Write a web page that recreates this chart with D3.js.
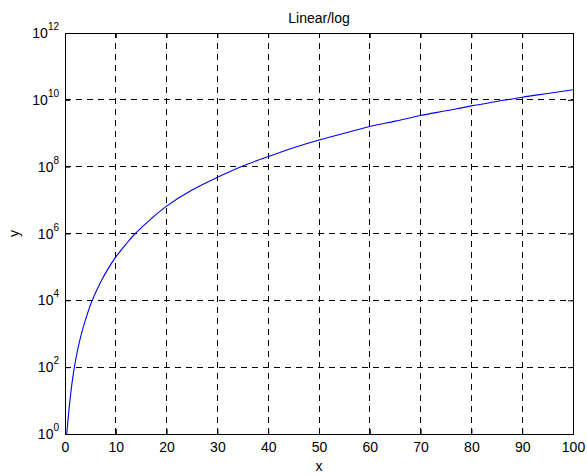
<!DOCTYPE html>
<html><head><meta charset="utf-8">
<script src="https://cdn.jsdelivr.net/npm/d3@7"></script>
<style>
html,body{margin:0;padding:0;background:#fff;}
svg{display:block;font-family:"Liberation Sans",Arial,Helvetica,sans-serif;}
</style></head>
<body>
<script>
// Data
const xValues = [0.35, 0.7, 1.0, 1.4, 1.85, 2.4, 3.1, 4.0, 5.3, 7.0, 8.5, 10, 12, 13.7, 17, 20, 25, 30, 35, 40, 45, 50, 55, 60, 65, 70, 75, 80, 85, 90, 95, 100];
const yValues = [1, 4, 11, 35, 100, 280, 830, 2500, 9500, 3.5e4, 8.9e4, 2.0e5, 4.8e5, 9.5e5, 2.8e6, 6.6e6, 2.0e7, 4.8e7, 1.05e8, 2.0e8, 3.7e8, 6.3e8, 1.0e9, 1.6e9, 2.3e9, 3.4e9, 4.7e9, 6.6e9, 8.9e9, 1.2e10, 1.55e10, 2.0e10];
const xTicks = [0, 10, 20, 30, 40, 50, 60, 70, 80, 90, 100];
const yTickExponents = [0, 2, 4, 6, 8, 10, 12];
const titleText = "Linear/log";
const xLabel = "x";
const yLabel = "y";

const W = 587, H = 476;
const m = {left: 65, right: 573, top: 33, bottom: 434};

const svg = d3.select("body").append("svg").attr("width", W).attr("height", H);
svg.append("rect").attr("width", W).attr("height", H).attr("fill", "#fff");

const x = d3.scaleLinear().domain([0, 100]).range([m.left, m.right]);
const y = d3.scaleLog().domain([1, 1e12]).range([m.bottom, m.top]);

const gridG = svg.append("g");
gridG.selectAll("line.vx").data(xTicks.slice(1, -1)).enter().append("line")
  .attr("x1", d => x(d)).attr("x2", d => x(d))
  .attr("y1", m.bottom).attr("y2", m.top)
  .attr("stroke", "#000").attr("stroke-width", 1).attr("stroke-dasharray", "6,5")
  .attr("shape-rendering", "crispEdges");
gridG.selectAll("line.hy").data(yTickExponents.slice(1, -1)).enter().append("line")
  .attr("x1", m.left).attr("x2", m.right)
  .attr("y1", d => y(Math.pow(10, d))).attr("y2", d => y(Math.pow(10, d)))
  .attr("stroke", "#000").attr("stroke-width", 1).attr("stroke-dasharray", "6,5")
  .attr("shape-rendering", "crispEdges");

svg.append("defs").append("clipPath").attr("id", "clip")
  .append("rect").attr("x", m.left).attr("y", m.top).attr("width", m.right - m.left).attr("height", m.bottom - m.top);
const pts = xValues.map((v, i) => [v, yValues[i]]);
const line = d3.line().x(d => x(d[0])).y(d => y(d[1])).curve(d3.curveCatmullRom.alpha(0.5));
svg.append("path").datum(pts).attr("d", line)
  .attr("fill", "none").attr("stroke", "#0000ff").attr("stroke-width", 1.1)
  .attr("clip-path", "url(#clip)");

const tickLen = 5;
const axB = d3.axisBottom(x).tickValues(xTicks).tickSize(-tickLen).tickFormat(d3.format("d"));
const axT = d3.axisTop(x).tickValues(xTicks).tickSize(-tickLen).tickFormat("");
const yTickVals = yTickExponents.map(e => Math.pow(10, e));
const axL = d3.axisLeft(y).tickValues(yTickVals).tickSize(-tickLen).tickFormat("");
const axR = d3.axisRight(y).tickValues(yTickVals).tickSize(-tickLen).tickFormat("");

function styleAxis(g) {
  g.select(".domain").attr("stroke", "#000").attr("stroke-width", 1);
  g.selectAll(".tick line").attr("stroke", "#000");
  g.selectAll("text").attr("font-size", 14).attr("fill", "#000")
    .attr("font-family", '"Liberation Sans",Arial,Helvetica,sans-serif');
}
const gB = svg.append("g").attr("transform", `translate(0,${m.bottom})`).call(axB).call(styleAxis);
gB.selectAll(".tick text").attr("dy", null).attr("y", 18);
svg.append("g").attr("transform", `translate(0,${m.top})`).call(axT).call(styleAxis);
svg.append("g").attr("transform", `translate(${m.left},0)`).call(axL).call(styleAxis);
svg.append("g").attr("transform", `translate(${m.right},0)`).call(axR).call(styleAxis);
svg.selectAll(".domain").attr("shape-rendering", "crispEdges");

const yLab = svg.append("g");
yTickExponents.forEach(e => {
  const ty = y(Math.pow(10, e));
  const t = yLab.append("text")
    .attr("x", m.left - 6).attr("y", ty + 5)
    .attr("text-anchor", "end").attr("font-size", 14).attr("fill", "#000");
  t.append("tspan").text("10");
  t.append("tspan").attr("font-size", 10).attr("dy", -8).text(String(e));
});

svg.append("text").attr("x", x(50)).attr("y", 23).attr("text-anchor", "middle")
  .attr("font-size", 14).attr("fill", "#000").text(titleText);
svg.append("text").attr("x", x(50)).attr("y", 471).attr("text-anchor", "middle")
  .attr("font-size", 14).attr("fill", "#000").text(xLabel);
svg.append("text").attr("transform", `translate(19,${(m.top + m.bottom) / 2}) rotate(-90)`)
  .attr("text-anchor", "middle").attr("font-size", 14).attr("fill", "#000").text(yLabel);
</script>
</body></html>
